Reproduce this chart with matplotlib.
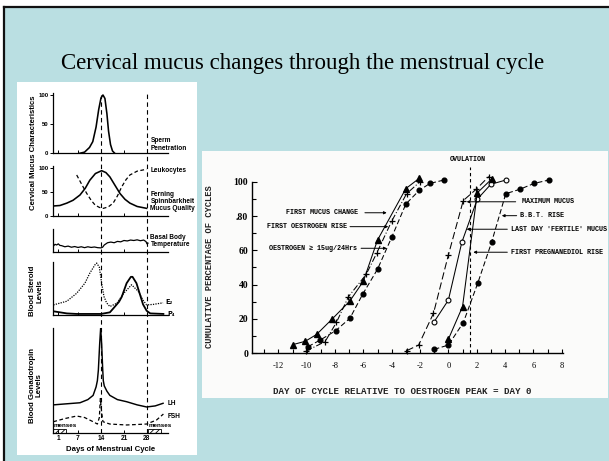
import matplotlib
matplotlib.use("Agg")
import matplotlib.pyplot as plt
from matplotlib.patches import Rectangle
from matplotlib.lines import Line2D

plt.rcParams['hatch.linewidth'] = 0.6

W, H = 609, 461

# ---------------- data: left panel (days of menstrual cycle) ----------------
day_ticks = [1, 7, 14, 21, 28]

sperm_days = [7.5, 9.0, 10.5, 11.5, 12.5, 13.3, 14.0, 14.6, 15.2, 15.8, 16.3, 16.9, 17.5, 18.2]
sperm_vals = [0, 2, 10, 20, 45, 75, 95, 100, 94, 68, 38, 15, 4, 0]

fern_days = [-0.5, 1.5, 3.6, 5.5, 7.6, 9.2, 10.6, 12.3, 14.2, 15.5, 16.7, 18.2, 19.8, 21.3, 22.8, 25.0, 27.9]
fern_vals = [21, 22, 27, 33, 44, 58, 75, 89, 95, 91, 82, 65, 47, 35, 27, 20, 16]

leuko_days = [6.6, 8.0, 9.6, 11.0, 12.2, 13.5, 14.7, 16.2, 17.7, 19.0, 20.3, 21.6, 22.8, 25.0, 27.9]
leuko_vals = [86, 68, 48, 33, 23, 18, 16, 19, 27, 42, 61, 76, 86, 94, 98]

bbt_days = [-0.5, 0, 0.5, 1, 1.5, 2, 3, 4, 5, 6, 7, 8, 9, 10, 11, 12, 13, 14, 14.5,
            15, 16, 17, 18, 19, 20, 21, 22, 23, 24, 25, 26, 27, 27.7, 28, 28.3]
bbt_vals = [25, 33, 30, 35, 28, 27, 22, 25, 20, 23, 19, 22, 18, 22, 19, 21, 18, 17, 20,
            30, 40, 43, 40, 46, 44, 50, 48, 52, 50, 53, 49, 52, 45, 35, 38]

e2_days = [-0.5, 3.6, 6.6, 9.1, 10.6, 12.2, 12.7, 13.5, 14.2, 14.9, 15.7, 16.7, 18.8,
           20.8, 23.3, 25.3, 26.8, 27.9, 29.9, 32.9]
e2_vals = [19, 26, 41, 60, 79, 95, 98, 90, 60, 35, 23, 16, 22, 40, 57, 45, 28, 19, 20, 23]

p4_days = [-0.5, 3.6, 6.6, 14.0, 16.7, 17.7, 19.5, 20.3, 21.8, 23.1, 23.6, 24.8, 25.9,
           26.8, 27.9, 29.0, 33.0]
p4_vals = [7, 3, 2, 2, 5, 12, 25, 34, 60, 72, 72, 60, 38, 20, 8, 3, 2]

lh_days = [-0.5, 3.5, 7.6, 10.0, 11.6, 12.5, 12.9, 13.2, 13.6, 13.9, 14.2, 14.5, 14.7,
           15.0, 15.8, 16.7, 19.0, 21.8, 25.0, 27.9, 30.5, 32.9]
lh_vals = [27, 28, 29, 32, 36, 44, 50, 60, 85, 100, 85, 62, 50, 45, 40, 36, 32, 30, 27, 25,
           26, 28.5]

fsh_days = [-0.5, 3.0, 6.6, 9.0, 11.6, 12.9, 13.5, 13.8, 14.2, 14.6, 16.7, 21.8, 27.9,
            30.9, 33.0]
fsh_vals = [11, 14, 16.4, 15, 11, 8.8, 15, 33, 20, 11, 8.8, 7.9, 8.8, 12.6, 18.3]

menses_spans = [(-0.6, 3.2), (28.3, 32.2)]

# ---------------- data: right panel (cumulative % of cycles) ----------------
x_ticks_r = [-12, -10, -8, -6, -4, -2, 0, 2, 4, 6, 8]
y_ticks_r = [0, 20, 40, 60, 80, 100]
y_ticklabels_r = ['0', '20', '40', '60', '.80', '100']

mucus_change_x = [-11.0, -10.1, -9.3, -8.2, -6.95, -6.0, -5.0, -3.0, -2.05]
mucus_change_y = [5, 7, 11, 20, 30.5, 42, 66, 96, 102]

oestro_rise_x = [-10.05, -8.7, -7.9, -7.05, -5.8, -5.05, -4.0, -2.95, -2.0]
oestro_rise_y = [1.3, 6.8, 18, 33, 46, 58.5, 77, 93, 100]

oestro15_x = [-9.9, -9.05, -7.95, -6.95, -6.05, -5.0, -4.0, -3.0, -2.05, -1.3, -0.3]
oestro15_y = [3.9, 7.7, 13.2, 20.4, 34.4, 49, 67.6, 87, 95, 99, 101]

max_mucus_x = [-2.95, -2.1, -1.05, 0.0, 1.05, 1.95, 2.85]
max_mucus_y = [1.5, 4.8, 23.3, 57.3, 89, 95.5, 103]

last_fertile_x = [-1.0, 0.0, 0.95, 2.04, 3.0, 4.07]
last_fertile_y = [18.4, 31, 64.7, 89.8, 98.5, 101]

bbt_rise_x = [0.0, 1.0, 2.04, 3.05]
bbt_rise_y = [8.2, 27.2, 93.5, 101.5]

pregnanediol_x = [-1.0, 0.0, 1.05, 2.07, 3.05, 4.05, 5.05, 6.05, 7.1]
pregnanediol_y = [2.3, 4.8, 17.8, 40.8, 64.7, 93, 95.6, 99, 101]

ovulation_day = 1.5

# ---------------- figure ----------------
BLUE = '#badfe2'
fig = plt.figure(figsize=(W / 100, H / 100), dpi=100)
fig.patch.set_facecolor('white')


def fbox(x0, y0, x1, y1):
    return [x0 / W, 1 - y1 / H, (x1 - x0) / W, (y1 - y0) / H]


def fx(px):
    return px / W


def fy(py):
    return 1 - py / H


# slide background + frame
fig.patches.append(Rectangle((fx(4), 0), 1 - fx(4), fy(7.5), transform=fig.transFigure,
                             facecolor=BLUE, edgecolor='none', zorder=-5))
fig.lines.append(Line2D([fx(4), 1], [fy(7.5), fy(7.5)], transform=fig.transFigure,
                        color='#111111', lw=1.6, zorder=-3))
fig.lines.append(Line2D([fx(4), fx(4)], [0, fy(7.5)], transform=fig.transFigure,
                        color='#111111', lw=1.6, zorder=-3))
# white image panels
fig.patches.append(Rectangle((fx(17), fy(455)), fx(197) - fx(17), fy(82) - fy(455),
                             transform=fig.transFigure, facecolor='white', edgecolor='none', zorder=-4))
fig.patches.append(Rectangle((fx(202), fy(398)), fx(608) - fx(202), fy(151) - fy(398),
                             transform=fig.transFigure, facecolor='#fbfbfa', edgecolor='none', zorder=-4))

fig.text(0.497, fy(68.5), 'Cervical mucus changes through the menstrual cycle',
         family='Liberation Serif', fontsize=16.5, ha='center', va='baseline', color='black')

# ---------------- left panel ----------------
XL = (-0.61, 34.4)
bold = dict(family='Liberation Sans', weight='bold')


def lax(y_top, y_bot, ylim):
    ax = fig.add_axes(fbox(53, y_top, 168, y_bot))
    ax.set_facecolor('none')
    ax.set_xlim(*XL)
    ax.set_ylim(*ylim)
    for s in ('top', 'right'):
        ax.spines[s].set_visible(False)
    for s in ('left', 'bottom'):
        ax.spines[s].set_linewidth(0.9)
    ax.set_xticks(day_ticks)
    ax.tick_params(axis='x', direction='in', length=2.2, width=0.7, labelbottom=False)
    ax.tick_params(axis='y', direction='out', length=2.2, width=0.7, pad=1,
                   labelsize=4.3)
    return ax


ax1 = lax(93, 153.3, (0, 103.4))
ax1.set_yticks([0, 50, 100])
ax1.set_yticklabels(['0', '50', '100'], fontsize=4.3, fontweight='bold', family='Liberation Sans')
ax1.plot(sperm_days, sperm_vals, color='black', lw=1.15)

ax2 = lax(166, 216, (0, 104.8))
ax2.set_yticks([0, 50, 100])
ax2.set_yticklabels(['0', '50', '100'], fontsize=4.3, fontweight='bold', family='Liberation Sans')
ax2.plot(fern_days, fern_vals, color='black', lw=1.15)
ax2.plot(leuko_days, leuko_vals, color='black', lw=0.9, ls=(0, (3, 2)))

ax3 = lax(229.3, 251.7, (0, 100))
ax3.set_yticks([])
ax3.plot(bbt_days, bbt_vals, color='black', lw=0.9)

ax4 = lax(262, 315, (0, 100))
ax4.set_yticks([])
ax4.plot(e2_days, e2_vals, color='black', lw=0.9, ls=(0, (1, 1)))
ax4.plot(p4_days, p4_vals, color='black', lw=1.3)

ax5 = lax(328, 433.3, (0, 100))
ax5.set_yticks([])
ax5.plot(lh_days, lh_vals, color='black', lw=1.05)
ax5.plot(fsh_days, fsh_vals, color='black', lw=0.9, ls=(0, (3, 2)))
ax5.tick_params(axis='x', labelbottom=True, labelsize=4.8, pad=1.2)
ax5.set_xticklabels([str(d) for d in day_ticks], fontweight='bold', family='Liberation Sans')
for (a, b) in menses_spans:
    ax5.add_patch(Rectangle((a, 0.6), b - a, 3.8, facecolor='white', edgecolor='black',
                            lw=0.6, hatch='//////', clip_on=False))
    ax5.text(a + 0.1, 5.5, 'menses', fontsize=4.5, va='bottom', ha='left', **bold)
ax5.set_xlabel('Days of Menstrual Cycle', fontsize=5.6, labelpad=3.2, **bold)

# vertical dashed reference lines across the left panel
axv = fig.add_axes(fbox(53, 93, 168, 433.3))
axv.set_xlim(*XL)
axv.set_ylim(0, 1)
axv.axis('off')
axv.axvline(14, ymin=0, ymax=0.994, color='black', lw=0.8, ls=(0, (4, 3)))
axv.axvline(28, ymin=0, ymax=1.0, color='black', lw=0.8, ls=(0, (4, 3)))


# left-panel annotations
def ptext(px, py, s, **kw):
    kw.setdefault('fontsize', 4.7)
    fig.text(fx(px), fy(py), s, ha='left', va='center', linespacing=1.0, **bold, **kw)


ptext(150.5, 144.5, 'Sperm\nPenetration')
ptext(150.5, 170, 'Leukocytes')
ptext(150.5, 201.5, 'Ferning\nSpinnbarkheit\nMucus Quality')
ptext(150.5, 240.8, 'Basal Body\nTemperature')
fig.text(fx(165.5), fy(302), 'E₂', ha='left', va='center', fontsize=4.7,
         family='DejaVu Sans', weight='bold')
fig.text(fx(167.5), fy(314.5), 'P₄', ha='left', va='center', fontsize=4.7,
         family='DejaVu Sans', weight='bold')
ptext(167.5, 403.3, 'LH')
ptext(167.5, 416.7, 'FSH')

fig.text(fx(33.5), fy(152.5), 'Cervical Mucus Characteristics', rotation=90,
         ha='center', va='center', fontsize=5.6, **bold)
fig.text(fx(36.0), fy(291), 'Blood Steroid\nLevels', rotation=90, ha='center',
         va='center', fontsize=5.6, linespacing=1.0, multialignment='center', **bold)
fig.text(fx(35.5), fy(385), 'Blood Gonadotropin\nLevels', rotation=90, ha='center',
         va='center', fontsize=5.6, linespacing=1.0, multialignment='center', **bold)

# ---------------- right panel ----------------
mono = ['Liberation Mono', 'DejaVu Sans Mono']
axr = fig.add_axes(fbox(251.7, 181.7, 563, 353.3))
axr.set_facecolor('none')
axr.set_xlim(-13.88, 8.09)
axr.set_ylim(0, 100)
for s in ('top', 'right'):
    axr.spines[s].set_visible(False)
for s in ('left', 'bottom'):
    axr.spines[s].set_linewidth(1.0)
axr.set_xticks(x_ticks_r)
axr.set_xticks(range(-13, 9), minor=True)
axr.set_yticks(y_ticks_r)
axr.set_yticks([10, 30, 50, 70, 90], minor=True)
axr.set_yticklabels(y_ticklabels_r, family='Liberation Serif', fontsize=7, fontweight='bold')
axr.set_xticklabels([str(v) for v in x_ticks_r], family='Liberation Serif', fontsize=6)
axr.tick_params(axis='x', which='both', direction='in', length=3.2, width=0.8, pad=6.2)
axr.tick_params(axis='y', which='major', direction='in', length=3.8, width=0.8, pad=2.5)
axr.tick_params(axis='y', which='minor', direction='in', length=2.6, width=0.8)

lw = 0.75
axr.plot(mucus_change_x, mucus_change_y, color='black', lw=lw, marker='^', ms=3.9, clip_on=False)
axr.plot(oestro_rise_x, oestro_rise_y, color='black', lw=lw, ls=(0, (6, 2, 1, 2)), marker='+',
         ms=4.2, mew=0.9, clip_on=False)
axr.plot(oestro15_x, oestro15_y, color='black', lw=lw, ls=(0, (5, 2.5)), marker='o', ms=3.4,
         clip_on=False)

axr.plot(max_mucus_x, max_mucus_y, color='black', lw=lw, ls=(0, (7, 3)), marker='+', ms=4.2,
         mew=0.9, clip_on=False)
axr.plot(last_fertile_x, last_fertile_y, color='black', lw=lw, marker='o', ms=3.5, mfc='white',
         mew=0.8, clip_on=False)
axr.plot(bbt_rise_x, bbt_rise_y, color='black', lw=lw, marker='^', ms=3.9, clip_on=False)
axr.plot(pregnanediol_x, pregnanediol_y, color='black', lw=lw, ls=(0, (5, 2.5)), marker='o',
         ms=3.4, clip_on=False)

axr.plot([ovulation_day, ovulation_day], [0, 108.6], color='black', lw=0.8,
         ls=(0, (3, 2.5)), clip_on=False)
axr.text(1.39, 113.2, 'OVULATION', ha='center', va='center', fontsize=4.9,
         family=mono, weight='bold')

arrow = dict(arrowstyle='-|>', lw=0.7, color='black', mutation_scale=4, shrinkA=0, shrinkB=0)
lab = dict(fontsize=4.9, family=mono, weight='bold', va='center')

axr.annotate('', xy=(-4.35, 81.9), xytext=(-5.89, 81.9), arrowprops=arrow)
axr.text(-6.35, 81.9, 'FIRST MUCUS CHANGE', ha='right', **lab)
axr.annotate('', xy=(-4.24, 73.8), xytext=(-6.94, 73.8), arrowprops=arrow)
axr.text(-7.15, 73.8, 'FIRST OESTROGEN RISE', ha='right', **lab)
axr.annotate('', xy=(-4.35, 61.2), xytext=(-6.16, 61.2), arrowprops=arrow)
axr.text(-6.45, 61.2, 'OESTROGEN ≥ 15ug/24Hrs', ha='right', **lab)

axr.annotate('', xy=(1.29, 88.3), xytext=(4.75, 88.3), arrowprops=arrow)
axr.text(5.2, 88.3, 'MAXIMUM MUCUS', ha='left', **lab)
axr.annotate('', xy=(3.77, 80.2), xytext=(4.82, 80.2), arrowprops=arrow)
axr.text(5.05, 80.2, 'B.B.T. RISE', ha='left', **lab)
axr.annotate('', xy=(1.29, 72.3), xytext=(4.16, 72.3), arrowprops=arrow)
axr.text(4.4, 72.3, "LAST DAY 'FERTILE' MUCUS", ha='left', **lab)
axr.annotate('', xy=(1.76, 58.9), xytext=(4.16, 58.9), arrowprops=arrow)
axr.text(4.4, 58.9, 'FIRST PREGNANEDIOL RISE', ha='left', **lab)

fig.text(fx(210), fy(266.5), 'CUMULATIVE PERCENTAGE OF CYCLES', rotation=90, ha='center',
         va='center', fontsize=6.3, family=mono, weight='bold', color='#222222')
fig.text(fx(402.5), fy(391.7), 'DAY OF CYCLE RELATIVE TO OESTROGEN PEAK = DAY 0', ha='center',
         va='center', fontsize=6.6, family=mono, weight='bold', color='#222222')

fig.savefig('out.png', dpi=100, facecolor=fig.get_facecolor())
